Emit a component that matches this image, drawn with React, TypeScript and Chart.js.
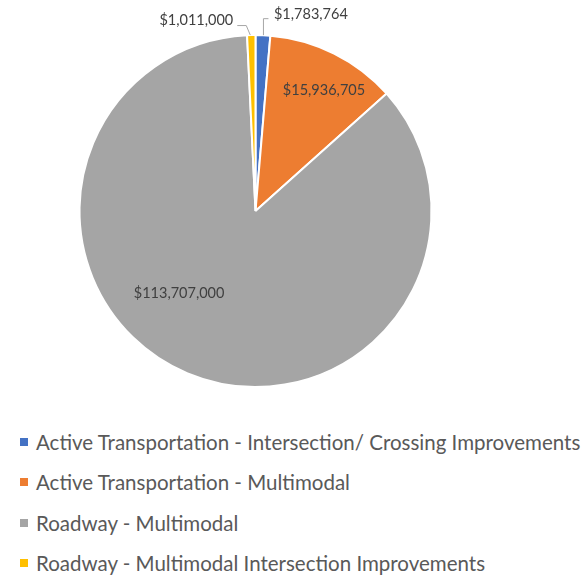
import React, { useEffect, useRef } from 'react';
import { Chart, registerables } from 'chart.js';

Chart.register(...registerables);

const categories = [
  'Active Transportation - Intersection/ Crossing Improvements',
  'Active Transportation - Multimodal',
  'Roadway - Multimodal',
  'Roadway - Multimodal Intersection Improvements',
];
const amounts = [1783764, 15936705, 113707000, 1011000];
const valueLabels = ['$1,783,764', '$15,936,705', '$113,707,000', '$1,011,000'];
const colors = ['#4472C4', '#ED7D31', '#A5A5A5', '#FFC000'];

const FONT = 'Lato, "Open Sans", "Liberation Sans", sans-serif';

const sliceLabelPlugin = {
  id: 'sliceLabels',
  afterDatasetsDraw(chart: any) {
    const ctx = chart.ctx;
    const meta = chart.getDatasetMeta(0);
    ctx.save();
    ctx.font = `14.5px ${FONT}`;
    ctx.fillStyle = '#404040';
    meta.data.forEach((arc: any, i: number) => {
      const { x, y, startAngle, endAngle, outerRadius } = arc.getProps(
        ['x', 'y', 'startAngle', 'endAngle', 'outerRadius'],
        true
      );
      const mid = (startAngle + endAngle) / 2;
      const text = valueLabels[i];
      const ex = x + Math.cos(mid) * outerRadius;
      const ey = y + Math.sin(mid) * outerRadius;
      if (i === 1 || i === 2) {
        const off = (i === 1 ? 3 : 20) * (Math.PI / 180);
        const frac = i === 1 ? 0.79 : 0.64;
        const a = mid + off;
        ctx.textAlign = 'center';
        ctx.textBaseline = 'middle';
        ctx.fillText(text, x + Math.cos(a) * outerRadius * frac, y + Math.sin(a) * outerRadius * frac);
      } else {
        ctx.strokeStyle = '#A6A6A6';
        ctx.lineWidth = 1;
        ctx.beginPath();
        if (i === 0) {
          ctx.moveTo(ex + 0.5, ey);
          ctx.lineTo(ex + 0.5, ey - 16.5);
          ctx.lineTo(ex + 5.5, ey - 16.5);
          ctx.stroke();
          ctx.textAlign = 'left';
          ctx.textBaseline = 'middle';
          ctx.fillText(text, ex + 11, ey - 21);
        } else {
          ctx.moveTo(ex - 1, ey);
          ctx.lineTo(ex - 5, ey - 9.5);
          ctx.lineTo(ex - 14, ey - 9.5);
          ctx.stroke();
          ctx.textAlign = 'right';
          ctx.textBaseline = 'middle';
          ctx.fillText(text, ex - 18, ey - 14.5);
        }
      }
    });
    ctx.restore();
  },
};

export default function App() {
  const canvasRef = useRef<HTMLCanvasElement | null>(null);

  useEffect(() => {
    const canvas = canvasRef.current;
    if (!canvas) return;
    const chart = new Chart(canvas, {
      type: 'pie',
      data: {
        labels: categories,
        datasets: [
          {
            data: amounts,
            backgroundColor: colors,
            borderColor: '#FFFFFF',
            borderWidth: 2,
            radius: 176,
          } as any,
        ],
      },
      options: {
        responsive: false,
        animation: false,
        layout: { padding: { left: 0, right: 76, top: 2, bottom: 0 } },
        plugins: {
          legend: { display: false },
          tooltip: { enabled: false },
        },
      },
      plugins: [sliceLabelPlugin],
    });
    return () => chart.destroy();
  }, []);

  return (
    <div
      style={{
        position: 'fixed',
        left: 0,
        top: 0,
        width: 587,
        height: 575,
        background: '#FFFFFF',
        overflow: 'hidden',
      }}
    >
      <canvas ref={canvasRef} width={587} height={420} style={{ position: 'absolute', left: 0, top: 0 }} />
      <div style={{ position: 'absolute', left: 0, top: 422, width: 587 }}>
        {categories.map((c, i) => (
          <div
            key={c}
            style={{
              display: 'flex',
              alignItems: 'center',
              height: 40.3,
              fontFamily: FONT,
              fontSize: 20.5,
              color: '#595959',
              whiteSpace: 'nowrap',
            }}
          >
            <span
              style={{
                display: 'inline-block',
                width: 8,
                height: 8,
                flex: '0 0 auto',
                background: colors[i],
                marginLeft: 20,
                marginRight: 8,
              }}
            />
            <span>{c}</span>
          </div>
        ))}
      </div>
    </div>
  );
}
